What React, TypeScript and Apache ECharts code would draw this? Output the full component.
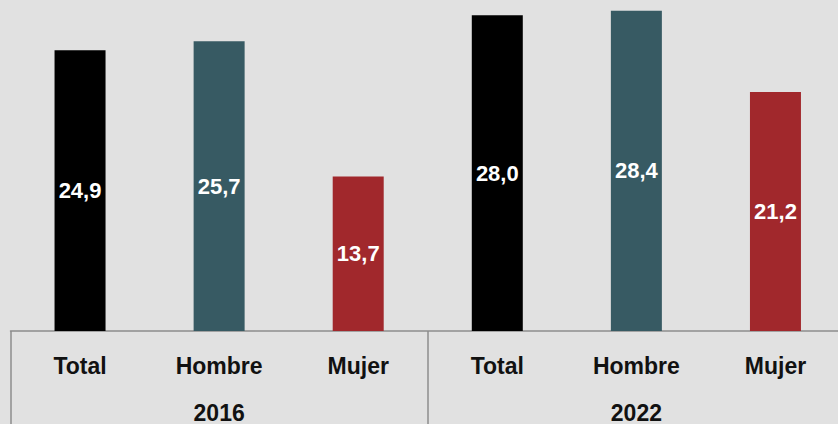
import React, { useEffect, useRef } from "react";
import * as echarts from "echarts";

const categories = ["Total", "Hombre", "Mujer", "Total", "Hombre", "Mujer"];
const values = [24.9, 25.7, 13.7, 28.0, 28.4, 21.2];
const barColors = ["#000000", "#375a63", "#a1282c", "#000000", "#375a63", "#a1282c"];
const years = ["2016", "2022"];

const FONT = "'Liberation Sans', Arial, sans-serif";

export default function App() {
  const ref = useRef<HTMLDivElement>(null);
  useEffect(() => {
    if (!ref.current) return;
    const chart = echarts.init(ref.current, undefined, { renderer: "svg" });
    chart.setOption({
      animation: false,
      backgroundColor: "#e1e1e1",
      grid: { left: 10.5, right: 0, top: 4, bottom: 89, containLabel: false },
      xAxis: [
        {
          type: "category",
          data: categories,
          position: "bottom",
          axisLine: { show: true, lineStyle: { color: "#8c8c8c", width: 1.5 } },
          axisTick: { show: false },
          axisLabel: {
            margin: 23,
            color: "#111",
            fontFamily: FONT,
            fontWeight: "bold",
            fontSize: 23,
          },
        },
        {
          type: "category",
          data: years,
          position: "bottom",
          axisLine: { show: false },
          axisTick: {
            show: true,
            length: 95,
            lineStyle: { color: "#8c8c8c", width: 1.5 },
          },
          axisLabel: {
            margin: 70,
            color: "#111",
            fontFamily: FONT,
            fontWeight: "bold",
            fontSize: 23,
          },
        },
      ],
      yAxis: {
        type: "value",
        min: 0,
        max: 29,
        show: false,
        splitLine: { show: false },
      },
      series: [
        {
          type: "bar",
          xAxisIndex: 0,
          barWidth: 51,
          data: values.map((v, i) => ({ value: v, itemStyle: { color: barColors[i] } })),
          label: {
            show: true,
            position: "inside",
            color: "#ffffff",
            fontFamily: FONT,
            fontWeight: "bold",
            fontSize: 22,
            formatter: (p: any) => Number(p.value).toFixed(1).replace(".", ","),
          },
        },
      ],
    });
    return () => chart.dispose();
  }, []);
  return (
    <div
      style={{ position: "fixed", left: 0, top: 0, width: 838, height: 424, overflow: "hidden" }}
    >
      <div ref={ref} style={{ position: "absolute", left: 0, top: 0, width: 845, height: 424 }} />
    </div>
  );
}
